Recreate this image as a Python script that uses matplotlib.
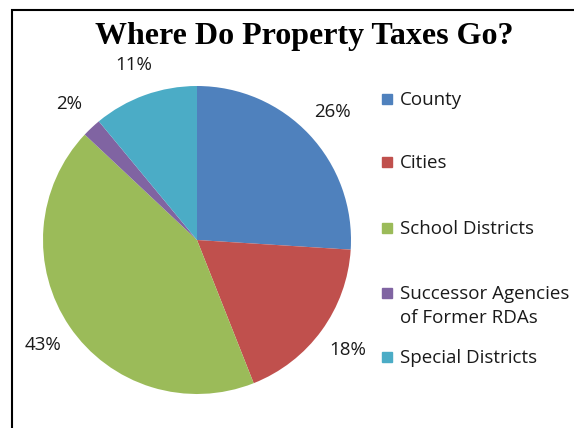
import matplotlib.pyplot as plt
import matplotlib.patches as mpatches

# ── data ──────────────────────────────────────
categories = ["County", "Cities", "School Districts",
              "Successor Agencies\nof Former RDAs", "Special Districts"]
shares = [26, 18, 43, 2, 11]
colors = ["#4F81BD", "#C0504D", "#9BBB59", "#8064A2", "#4BACC6"]

W, H = 574, 428
FONT = "Open Sans"
fig = plt.figure(figsize=(W / 100, H / 100), dpi=100)
ax = fig.add_axes([0, 0, 1, 1])

# pie, clockwise from 12 o'clock
ax.pie(shares, colors=colors, startangle=90, counterclock=False,
       center=(197, H - 240), radius=154, frame=True,
       autopct="%d%%", pctdistance=1.21,
       textprops=dict(fontsize=13.5, family=FONT, color="#1a1a1a"))
ax.set_xlim(0, W)
ax.set_ylim(0, H)
ax.axis("off")

# frame running off the right and bottom edges
ax.add_patch(mpatches.Rectangle((12, -10), W, H, fill=False,
                                lw=1.5, ec="black", clip_on=False))

ax.text(304, H - 36, "Where Do Property Taxes Go?", ha="center", va="center",
        fontsize=23, fontweight="bold", family="Liberation Serif")

# legend, laid out like the spreadsheet one (evenly spread rows)
legend_rows = [99, 162, 228, 293, 357]
for y, c, lab in zip(legend_rows, colors, categories):
    ax.add_patch(mpatches.Rectangle((382, H - y - 5), 10, 10, color=c))
    ax.text(400, H - y + 8, lab, ha="left", va="top", fontsize=13.5,
            family=FONT, color="#1a1a1a", linespacing=1.45)

fig.savefig("out.png", dpi=100)
